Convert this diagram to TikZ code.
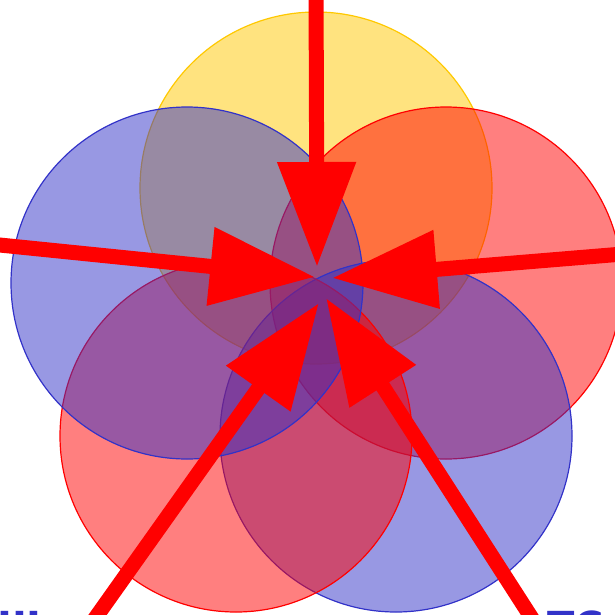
\documentclass[tikz,border=0pt]{standalone}
\usepackage{fontspec}
\newfontfamily\labelfont{DejaVu Sans}
\usetikzlibrary{arrows.meta}
\definecolor{discyellow}{RGB}{255,200,0}
\definecolor{discblue}{RGB}{50,50,200}
\definecolor{discred}{RGB}{255,0,0}

\begin{document}
\begin{tikzpicture}[x=1pt,y=-1pt,
  disc/.style={circle,minimum size=352pt,inner sep=0pt,line width=1.2pt,draw=#1,fill=#1,fill opacity=0.5},
  push/.style={draw=discred,line width=15pt,-{Triangle[length=105pt,width=75pt]}},
  cutlabel/.style={anchor=base west,inner sep=0pt,text=discblue,font=\labelfont\bfseries\fontsize{40}{40}\selectfont}]
\useasboundingbox (0,0) rectangle (615,614);
% five discs, clockwise from the top
\node[disc=discyellow] (top) at (316,188) {};
\node[disc=discred] (right) at (446,283) {};
\node[disc=discblue] (lowright) at (396,436) {};
\node[disc=discred] (lowleft) at (236,436) {};
\node[disc=discblue] (left) at (187,283) {};
% arrows pushing in
\coordinate (fromtop) at (316,-20);
\coordinate (fromleft) at (-20,243);
\coordinate (fromright) at (635,253);
\coordinate (fromlowleft) at (84,634);
\coordinate (fromlowright) at (542,634);
\coordinate (hittop) at (317,267);
\coordinate (hitleft) at (315,277);
\coordinate (hitright) at (332,278);
\coordinate (hitlowleft) at (319,303);
\coordinate (hitlowright) at (326,298);
\draw[push] (fromtop) -- (hittop);
\draw[push] (fromleft) -- (hitleft);
\draw[push] (fromright) -- (hitright);
\draw[push] (fromlowleft) -- (hitlowleft);
\draw[push] (fromlowright) -- (hitlowright);
% labels cut by the lower edge
\node[cutlabel] (leftlabel) at (-3,640) {III};
\node[cutlabel] (rightlabel) at (547,640) {TC};
\end{tikzpicture}
\end{document}
